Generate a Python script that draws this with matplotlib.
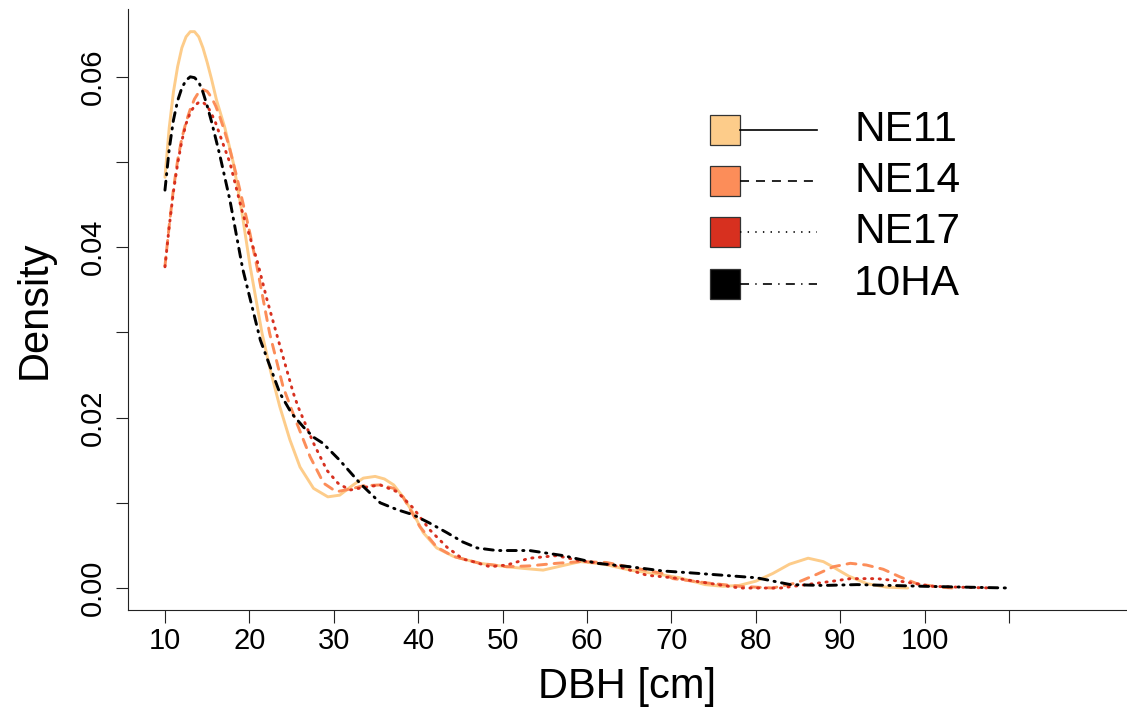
import matplotlib
matplotlib.use("Agg")
import matplotlib.pyplot as plt
from matplotlib.lines import Line2D
from matplotlib.patches import Rectangle

plt.rcParams['font.family'] = ['Liberation Sans', 'DejaVu Sans']
plt.rcParams['lines.scale_dashes'] = False

# ---------------- data ----------------
series_names = ["NE11", "NE14", "NE17", "10HA"]
series_colors = ["#FDCC8A", "#FC8D59", "#D7301F", "#000000"]

ne11_x = [10, 10.5, 11.0, 11.5, 12.0, 12.5, 13.0, 13.5, 14.0, 14.5, 15.0, 15.5, 16.1, 17.1,
          18.1, 19.1, 20.1, 21.5, 22.5, 23.6, 24.8, 26.0, 27.6, 29.3, 30.7, 32.3, 33.5,
          34.9, 36.0, 37.1, 38.2, 39.4, 40.6, 42.2, 44.2, 47.3, 50.5, 52.5, 54.8, 57.0,
          59.2, 62.0, 65.1, 68.0, 71.0, 74.0, 76.1, 78.0, 80.0, 82.0, 84.0, 86.2, 88.0,
          89.1, 91.0, 93.2, 95.5, 98.0]
ne11_y = [0.0482, 0.0540, 0.0582, 0.0612, 0.0634, 0.0647, 0.0653, 0.0653, 0.0647, 0.0634,
          0.0617, 0.0598, 0.0573, 0.0540, 0.0499, 0.0442, 0.0377, 0.0299, 0.0255, 0.0213,
          0.0174, 0.0142, 0.0117, 0.0107, 0.0109, 0.0121, 0.0129, 0.0131, 0.0128, 0.0121,
          0.0107, 0.0088, 0.0065, 0.0047, 0.0037, 0.0029, 0.0025, 0.0023, 0.0021, 0.0026,
          0.0031, 0.0028, 0.0021, 0.0017, 0.0012, 0.0004, 0.0002, 0.0003, 0.0008, 0.0017,
          0.0028, 0.0035, 0.0031, 0.0025, 0.0014, 0.0005, 0.0001, 0.0000]

ne14_x = [10, 10.5, 11.0, 11.5, 12.0, 12.5, 13.0, 13.5, 14.0, 14.5, 15.0, 15.5, 16.0,
          16.5, 17.0, 17.5, 18.5, 19.9, 20.9, 22.4, 24.0, 25.4, 27.2, 28.8, 30.3, 31.9,
          33.5, 35.5, 37.1, 38.2, 40.2, 42.2, 44.2, 47.3, 50.5, 53.2, 56.4, 59.2, 62.3,
          65.9, 69.0, 70.2, 74.2, 78.1, 82.0, 84.8, 87.2, 89.2, 91.2, 93.1, 95.1, 97.1,
          99.1, 101.8, 103.4]
ne14_y = [0.0378, 0.0425, 0.0468, 0.0502, 0.0528, 0.0547, 0.0562, 0.0574, 0.0582, 0.0585,
          0.0583, 0.0576, 0.0566, 0.0553, 0.0538, 0.0522, 0.0483, 0.0424, 0.0377, 0.0299,
          0.0236, 0.0199, 0.0154, 0.0123, 0.0113, 0.0116, 0.0120, 0.0121, 0.0117, 0.0107,
          0.0072, 0.0048, 0.0037, 0.0029, 0.0025, 0.0026, 0.0029, 0.0031, 0.0030, 0.0023,
          0.0017, 0.0011, 0.0006, 0.0002, 0.0000, 0.0006, 0.0016, 0.0025, 0.0029, 0.0027,
          0.0022, 0.0013, 0.0005, 0.0001, 0.0000]

ne17_x = [10, 10.5, 11.0, 11.5, 12.0, 12.5, 13.0, 13.5, 14.0, 14.5, 15.0, 15.5, 16.0,
          16.5, 17.0, 17.7, 19.2, 20.9, 22.1, 23.6, 25.2, 25.8, 27.6, 29.2, 30.5, 31.9,
          33.5, 35.5, 37.5, 39.4, 41.4, 43.4, 45.3, 46.5, 48.5, 50.5, 53.2, 56.4, 59.2,
          63.1, 67.1, 70.2, 74.2, 78.1, 82.9, 86.0, 89.1, 91.2, 94.4, 97.1, 101.0, 104.0,
          108.0]
ne17_y = [0.0377, 0.0424, 0.0465, 0.0498, 0.0525, 0.0545, 0.0558, 0.0566, 0.0570, 0.0570,
          0.0566, 0.0557, 0.0546, 0.0532, 0.0518, 0.0499, 0.0440, 0.0385, 0.0338, 0.0285,
          0.0229, 0.0212, 0.0170, 0.0138, 0.0123, 0.0115, 0.0118, 0.0121, 0.0113, 0.0094,
          0.0068, 0.0048, 0.0034, 0.0031, 0.0025, 0.0027, 0.0035, 0.0038, 0.0032, 0.0027,
          0.0015, 0.0012, 0.0006, 0.0000, 0.0000, 0.0004, 0.0008, 0.0011, 0.0011, 0.0008,
          0.0002, 0.0001, 0.0000]

ha10_x = [10, 10.5, 11.0, 11.5, 12.0, 12.5, 13.0, 13.5, 14.0, 14.5, 15.0, 15.5, 16.0,
          16.5, 17.7, 19.2, 21.3, 23.6, 25.0, 26.4, 27.6, 28.7, 30.7, 33.1, 35.5, 37.5,
          39.4, 41.4, 43.4, 45.3, 47.0, 49.3, 53.2, 57.2, 61.2, 65.1, 69.0, 72.0, 76.1,
          80.1, 84.1, 88.0, 92.0, 96.0, 100.0, 105.0, 110.0]
ha10_y = [0.0467, 0.0515, 0.0549, 0.0572, 0.0587, 0.0596, 0.0600, 0.0599, 0.0594, 0.0582,
          0.0566, 0.0548, 0.0528, 0.0508, 0.0455, 0.0375, 0.0291, 0.0229, 0.0205, 0.0189,
          0.0177, 0.0170, 0.0150, 0.0123, 0.0100, 0.0092, 0.0086, 0.0076, 0.0065, 0.0054,
          0.0047, 0.0044, 0.0044, 0.0038, 0.0029, 0.0025, 0.0020, 0.0018, 0.0015, 0.0012,
          0.0004, 0.0003, 0.0004, 0.0003, 0.0002, 0.0001, 0.0000]

x_ticks = [10, 20, 30, 40, 50, 60, 70, 80, 90, 100, 110]
x_tick_labels = ["10", "20", "30", "40", "50", "60", "70", "80", "90", "100", ""]
y_ticks = [0.00, 0.01, 0.02, 0.03, 0.04, 0.05, 0.06]
y_tick_labels = ["0.00", "", "0.02", "", "0.04", "", "0.06"]
x_label = "DBH [cm]"
y_label = "Density"

# ---------------- figure ----------------
W, H = 1127, 713
fig = plt.figure(figsize=(W / 100, H / 100), dpi=100)
ax = fig.add_axes([128 / W, (H - 610) / H, (W - 128) / W, (610 - 9) / H])

lw = 2.1
styles = [
    dict(linestyle="-"),
    dict(linestyle=(0, (6.5, 5.5))),
    dict(linestyle=(0, (0.9, 4.6))),
    dict(linestyle=(0, (6.5, 4.6, 0.9, 4.6))),
]
xs = [ne11_x, ne14_x, ne17_x, ha10_x]
ys = [ne11_y, ne14_y, ne17_y, ha10_y]
for xv, yv, c, st in zip(xs, ys, series_colors, styles):
    ax.plot(xv, yv, color=c, lw=lw, dash_capstyle="round", solid_capstyle="round",
            solid_joinstyle="round", **st)

ax.set_xlim(5.62, 123.98)
ax.set_ylim(-0.00258, 0.06796)

for s in ["top", "right"]:
    ax.spines[s].set_visible(False)
for s in ["left", "bottom"]:
    ax.spines[s].set_linewidth(0.8)
    ax.spines[s].set_color("#222222")

ax.set_xticks(x_ticks)
ax.set_xticklabels(x_tick_labels, fontsize=21)
ax.set_yticks(y_ticks)
ax.set_yticklabels(y_tick_labels, fontsize=21, rotation=90, va="center")
ax.tick_params(axis="both", length=9, width=0.8, color="#222222")
ax.tick_params(axis="x", pad=3)
ax.tick_params(axis="y", pad=6)

ax.set_xlabel(x_label, fontsize=30, labelpad=9)
ax.set_ylabel(y_label, fontsize=30, labelpad=18)

# ---------------- legend (drawn manually) ----------------
def fx(px):
    return px / W

def fy(py):
    return 1 - py / H

legend_rows = [130, 181, 232, 284]
leg_styles = [
    dict(linestyle="-"),
    dict(linestyle=(0, (6.5, 5.0))),
    dict(linestyle=(0, (1.0, 4.5))),
    dict(linestyle=(0, (6.5, 4.5, 1.0, 4.5))),
]
for name, c, st, cy in zip(series_names, series_colors, leg_styles, legend_rows):
    fig.add_artist(Rectangle((fx(710), fy(cy + 15)), 30 / W, 30 / H,
                             transform=fig.transFigure, facecolor=c,
                             edgecolor="#333333", lw=0.9))
    fig.add_artist(Line2D([fx(740), fx(817)], [fy(cy), fy(cy)],
                          transform=fig.transFigure, color="black", lw=1.2, **st))
    fig.text(fx(854), fy(cy), name, fontsize=30.5, va="center", ha="left")

fig.savefig("out.png", dpi=100)
